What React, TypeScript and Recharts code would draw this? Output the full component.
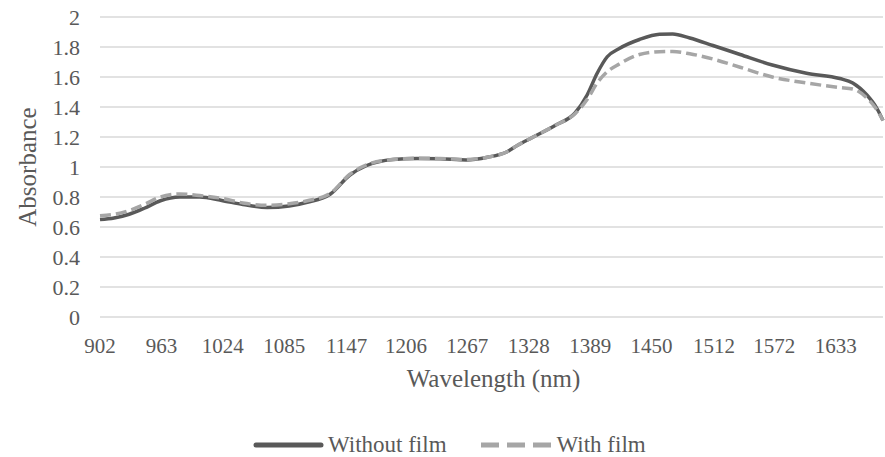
import { LineChart, Line, XAxis, YAxis, CartesianGrid } from 'recharts';

const wavelengths = [
  902, 916, 931, 946, 962, 981, 1001, 1024, 1044, 1068, 1090, 1108, 1131, 1150, 1167, 1193, 1217,
  1240, 1266, 1287, 1306, 1317, 1332, 1355, 1374, 1386, 1396, 1406, 1418, 1438, 1458, 1471, 1488,
  1511, 1538, 1570, 1604, 1637, 1650, 1664, 1674, 1680,
];
const withoutFilm = [
  0.65, 0.66, 0.685, 0.725, 0.775, 0.8, 0.8, 0.775, 0.75, 0.73, 0.74, 0.765, 0.82, 0.945, 1.01, 1.05,
  1.057, 1.055, 1.047, 1.065, 1.1, 1.145, 1.198, 1.28, 1.36, 1.48, 1.625, 1.735, 1.79, 1.85, 1.885,
  1.887, 1.86, 1.81, 1.75, 1.68, 1.625, 1.59, 1.56, 1.48, 1.39, 1.31,
];
const withFilm = [
  0.675, 0.685, 0.71, 0.75, 0.8, 0.82, 0.81, 0.79, 0.76, 0.745, 0.755, 0.775, 0.825, 0.95, 1.015, 1.05,
  1.058, 1.057, 1.05, 1.065, 1.1, 1.145, 1.198, 1.28, 1.355, 1.45, 1.56, 1.635, 1.687, 1.75, 1.769,
  1.77, 1.755, 1.72, 1.665, 1.6, 1.56, 1.53, 1.52, 1.46, 1.38, 1.31,
];
const xTicks = [902, 963, 1024, 1085, 1147, 1206, 1267, 1328, 1389, 1450, 1512, 1572, 1633];
const yTicks = [0, 0.2, 0.4, 0.6, 0.8, 1, 1.2, 1.4, 1.6, 1.8, 2];

const data = wavelengths.map((w, i) => ({ w, without: withoutFilm[i], with: withFilm[i] }));

const FONT = 'Liberation Serif, DejaVu Serif, serif';
const TEXT = '#595959';

export default function App() {
  return (
    <div style={{ position: 'absolute', left: 0, top: 0, width: 885, height: 457, background: '#fff', fontFamily: FONT }}>
      <LineChart width={885} height={457} data={data} margin={{ top: 17, right: 2, left: 0, bottom: 0 }} style={{ fontFamily: FONT }}>
        <CartesianGrid vertical={false} stroke="#d9d9d9" strokeWidth={1.5} />
        <XAxis
          dataKey="w"
          type="number"
          domain={[902, 1680]}
          ticks={xTicks}
          interval={0}
          height={140}
          axisLine={false}
          tickLine={false}
          tickSize={0}
          tickMargin={21}
          tick={{ fill: TEXT, fontSize: 21, fontFamily: FONT }}
          label={{ value: 'Wavelength (nm)', position: 'insideTop', offset: 52, dx: 2, fill: TEXT, fontSize: 25, fontFamily: FONT }}
        />
        <YAxis
          domain={[0, 2]}
          ticks={yTicks}
          interval={0}
          width={100}
          axisLine={false}
          tickLine={false}
          tickSize={0}
          tickMargin={20}
          tick={{ fill: TEXT, fontSize: 22, fontFamily: FONT }}
          label={{ value: 'Absorbance', angle: -90, position: 'insideLeft', offset: 27, fill: TEXT, fontSize: 25, fontFamily: FONT, style: { textAnchor: 'middle' } }}
        />
        <Line type="monotone" dataKey="without" stroke="#595959" strokeWidth={3.5} dot={false} isAnimationActive={false} />
        <Line type="monotone" dataKey="with" stroke="#a6a6a6" strokeWidth={3.5} strokeDasharray="11 5" dot={false} isAnimationActive={false} />
      </LineChart>
      <div style={{ position: 'absolute', left: 253, top: 432, display: 'flex', alignItems: 'center', fontSize: 23, color: TEXT, whiteSpace: 'nowrap' }}>
        <svg width={71} height={8}><line x1={3} y1={4} x2={68} y2={4} stroke="#595959" strokeWidth={5} strokeLinecap="round" /></svg>
        <span style={{ marginLeft: 4 }}>Without film</span>
        <svg width={71} height={8} style={{ marginLeft: 34 }}><line x1={0} y1={4} x2={71} y2={4} stroke="#a6a6a6" strokeWidth={5} strokeDasharray="18 8" /></svg>
        <span style={{ marginLeft: 5 }}>With film</span>
      </div>
    </div>
  );
}
